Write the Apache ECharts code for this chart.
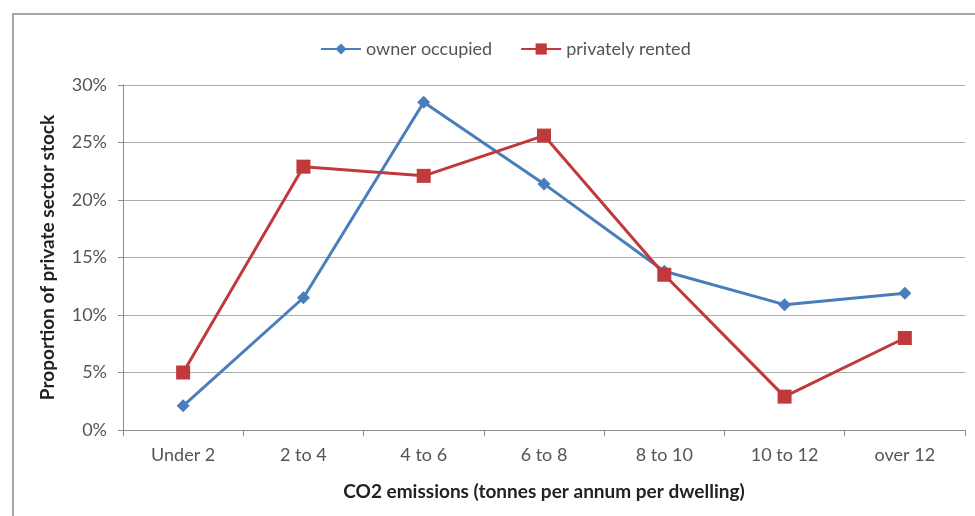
<!DOCTYPE html>
<html><head><meta charset="utf-8">
<script src="https://cdn.jsdelivr.net/npm/echarts@6/dist/echarts.min.js"></script>
<style>html,body{margin:0;padding:0;background:#fff}#c{width:975px;height:516px}</style>
</head><body><div id="c"></div>
<script>
const categories = ['Under 2','2 to 4','4 to 6','6 to 8','8 to 10','10 to 12','over 12'];
const ownerOccupied = [2.1, 11.5, 28.5, 21.4, 13.8, 10.9, 11.9];
const privatelyRented = [5.0, 22.9, 22.1, 25.6, 13.5, 2.9, 8.0];
const yTicks = [0, 5, 10, 15, 20, 25, 30];

const FONT = "Lato, 'Open Sans', sans-serif";
const chart = echarts.init(document.getElementById('c'), null, {renderer:'canvas'});
chart.setOption({
  animation:false,
  backgroundColor:'#fff',
  textStyle:{fontFamily:FONT},
  graphic:[{type:'rect', shape:{x:13,y:14,width:1000,height:600}, style:{fill:'none', stroke:'#a6a6a6', lineWidth:2}, silent:true}],
  legend:{
    top:35, left:315, itemGap:28, itemWidth:40, itemHeight:14,
    textStyle:{fontFamily:FONT, fontSize:18, color:'#555'},
    data:[{name:'owner occupied'},{name:'privately rented'}]
  },
  grid:{left:123, right:10, top:85, bottom:86},
  xAxis:{
    type:'category', data:categories, boundaryGap:true,
    name:'CO2 emissions (tonnes per annum per dwelling)', nameLocation:'middle', nameGap:52,
    nameTextStyle:{fontFamily:FONT, fontSize:19, fontWeight:'bold', color:'#222'},
    axisLine:{lineStyle:{color:'#8c8c8c', width:1}},
    axisTick:{show:true, length:6, interval:0, lineStyle:{color:'#8c8c8c'}},
    axisLabel:{fontFamily:FONT, fontSize:18, color:'#555', margin:16}
  },
  yAxis:{
    type:'value', min:yTicks[0], max:yTicks[yTicks.length-1], interval:5,
    name:'Proportion of private sector stock', nameLocation:'middle', nameGap:66, nameRotate:90,
    nameTextStyle:{fontFamily:FONT, fontSize:19, fontWeight:'bold', color:'#222'},
    axisLine:{show:true, lineStyle:{color:'#8c8c8c'}},
    axisTick:{show:true, length:5, lineStyle:{color:'#8c8c8c'}},
    axisLabel:{fontFamily:FONT, fontSize:18, color:'#555', margin:16, formatter: v => v + '%'},
    splitLine:{lineStyle:{color:'#acacac', width:1}}
  },
  series:[
    {name:'owner occupied', type:'line', data:ownerOccupied, symbol:'diamond', symbolSize:13,
     itemStyle:{color:'#4a7ebb'}, lineStyle:{color:'#4a7ebb', width:3}},
    {name:'privately rented', type:'line', data:privatelyRented, symbol:'rect', symbolSize:14,
     itemStyle:{color:'#c0393b'}, lineStyle:{color:'#c0393b', width:3}}
  ]
});
</script></body></html>
